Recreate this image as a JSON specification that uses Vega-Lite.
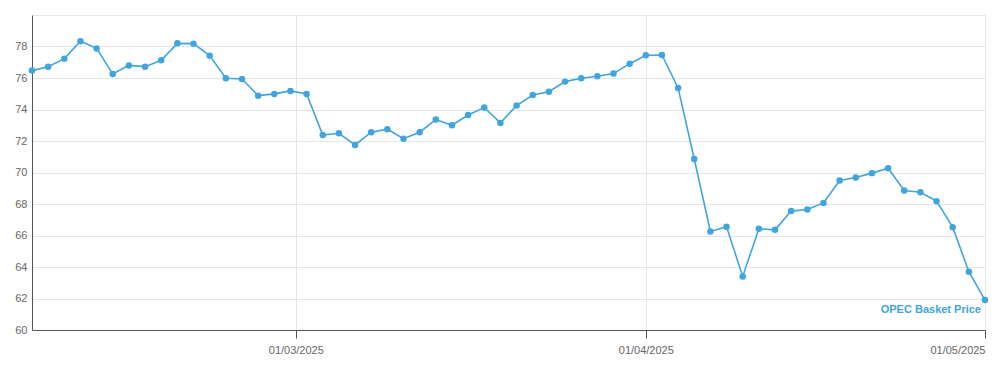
{
  "$schema": "https://vega.github.io/schema/vega-lite/v6.json",
  "autosize": {"type": "none"},
  "width": 953,
  "height": 315,
  "padding": {"left": 32, "top": 15, "right": 15, "bottom": 39},
  "background": "white",
  "config": {
    "view": {"stroke": null},
    "font": "Liberation Sans"
  },
  "data": {
    "values": [
      {"date": "2025-02-06", "price": 76.47},
      {"date": "2025-02-07", "price": 76.72},
      {"date": "2025-02-10", "price": 77.23},
      {"date": "2025-02-11", "price": 78.33},
      {"date": "2025-02-12", "price": 77.88},
      {"date": "2025-02-13", "price": 76.25},
      {"date": "2025-02-14", "price": 76.80},
      {"date": "2025-02-17", "price": 76.72},
      {"date": "2025-02-18", "price": 77.12},
      {"date": "2025-02-19", "price": 78.20},
      {"date": "2025-02-20", "price": 78.18},
      {"date": "2025-02-21", "price": 77.42},
      {"date": "2025-02-24", "price": 75.98},
      {"date": "2025-02-25", "price": 75.94},
      {"date": "2025-02-26", "price": 74.88},
      {"date": "2025-02-27", "price": 74.99},
      {"date": "2025-02-28", "price": 75.18},
      {"date": "2025-03-03", "price": 74.99},
      {"date": "2025-03-04", "price": 72.38},
      {"date": "2025-03-05", "price": 72.49},
      {"date": "2025-03-06", "price": 71.75},
      {"date": "2025-03-07", "price": 72.56},
      {"date": "2025-03-10", "price": 72.75},
      {"date": "2025-03-11", "price": 72.15},
      {"date": "2025-03-12", "price": 72.56},
      {"date": "2025-03-13", "price": 73.36},
      {"date": "2025-03-14", "price": 73.00},
      {"date": "2025-03-17", "price": 73.65},
      {"date": "2025-03-18", "price": 74.12},
      {"date": "2025-03-19", "price": 73.15},
      {"date": "2025-03-20", "price": 74.25},
      {"date": "2025-03-21", "price": 74.92},
      {"date": "2025-03-24", "price": 75.13},
      {"date": "2025-03-25", "price": 75.77},
      {"date": "2025-03-26", "price": 75.98},
      {"date": "2025-03-27", "price": 76.11},
      {"date": "2025-03-28", "price": 76.28},
      {"date": "2025-03-31", "price": 76.91},
      {"date": "2025-04-01", "price": 77.44},
      {"date": "2025-04-02", "price": 77.46},
      {"date": "2025-04-03", "price": 75.37},
      {"date": "2025-04-04", "price": 70.86},
      {"date": "2025-04-07", "price": 66.26},
      {"date": "2025-04-08", "price": 66.55},
      {"date": "2025-04-09", "price": 63.40},
      {"date": "2025-04-10", "price": 66.43},
      {"date": "2025-04-11", "price": 66.36},
      {"date": "2025-04-14", "price": 67.55},
      {"date": "2025-04-15", "price": 67.65},
      {"date": "2025-04-16", "price": 68.07},
      {"date": "2025-04-17", "price": 69.49},
      {"date": "2025-04-21", "price": 69.68},
      {"date": "2025-04-22", "price": 69.96},
      {"date": "2025-04-23", "price": 70.27},
      {"date": "2025-04-24", "price": 68.86},
      {"date": "2025-04-25", "price": 68.75},
      {"date": "2025-04-28", "price": 68.18},
      {"date": "2025-04-29", "price": 66.53},
      {"date": "2025-04-30", "price": 63.70},
      {"date": "2025-05-01", "price": 61.90}
    ]
  },
  "transform": [
    {"window": [{"op": "row_number", "as": "rn"}], "sort": [{"field": "date", "order": "ascending"}]},
    {"calculate": "datum.rn - 1", "as": "idx"}
  ],
  "encoding": {
    "x": {
      "field": "idx",
      "type": "quantitative",
      "title": null,
      "scale": {"domain": [0, 59], "nice": false, "zero": false},
      "axis": {
        "values": [16.333, 38, 59],
        "labelExpr": "datum.value < 20 ? '01/03/2025' : (datum.value < 40 ? '01/04/2025' : '01/05/2025')",
        "grid": true,
        "gridColor": "#e6e6e6",
        "domainColor": "#555555",
        "tickColor": "#555555",
        "tickSize": 8,
        "labelColor": "#666666",
        "labelFontSize": 11,
        "labelPadding": 6,
        "labelFlush": true
      }
    },
    "y": {
      "field": "price",
      "type": "quantitative",
      "title": null,
      "scale": {"domain": [60, 80], "nice": false, "zero": false},
      "axis": {
        "values": [60, 62, 64, 66, 68, 70, 72, 74, 76, 78, 80],
        "labelExpr": "datum.value == 80 ? '' : datum.label",
        "grid": true,
        "gridColor": "#e6e6e6",
        "domainColor": "#555555",
        "ticks": false,
        "labelColor": "#666666",
        "labelFontSize": 11,
        "labelPadding": 5,
        "labelFlush": false
      }
    }
  },
  "layer": [
    {
      "mark": {"type": "line", "color": "#40a5de", "strokeWidth": 1.6},
      "encoding": {}
    },
    {
      "mark": {"type": "circle", "color": "#40a5de", "opacity": 1, "size": 42},
      "encoding": {}
    },
    {
      "transform": [{"filter": "datum.date == '2025-05-01'"}],
      "mark": {
        "type": "text",
        "text": "OPEC Basket Price",
        "align": "right",
        "baseline": "middle",
        "dx": -4,
        "dy": 10,
        "fontWeight": "bold",
        "fontSize": 11,
        "color": "#40a5de"
      },
      "encoding": {}
    }
  ]
}
